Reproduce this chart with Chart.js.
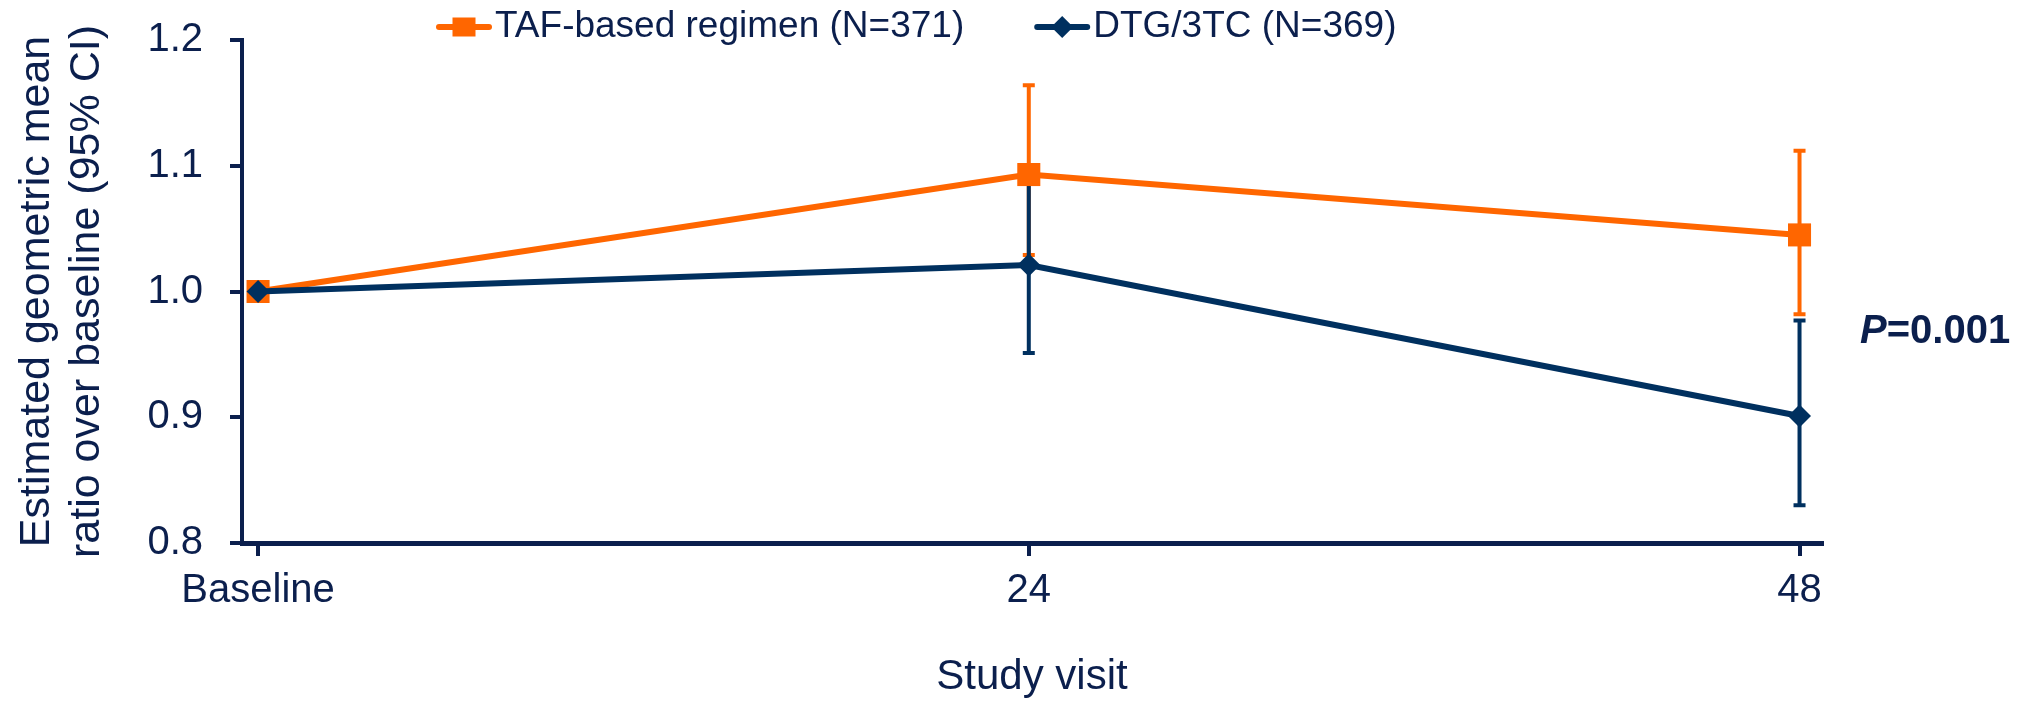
<!DOCTYPE html>
<html>
<head>
<meta charset="utf-8">
<title>Geometric mean ratio over baseline</title>
<script src="https://cdn.jsdelivr.net/npm/chart.js@4/dist/chart.umd.min.js"></script>
<style>
  html, body { margin: 0; padding: 0; background: #fff; }
  #wrap { width: 2034px; height: 704px; }
</style>
</head>
<body>
<div id="wrap"><canvas id="ratioChart"></canvas></div>
<script>
// data
const weeks = [0, 24, 48];
const xTickLabels = ['Baseline', '24', '48'];
const yTicks = [0.8, 0.9, 1.0, 1.1, 1.2];

const seriesNames = ['TAF-based regimen (N=371)', 'DTG/3TC (N=369)'];
const tafMean  = [1.000, 1.093, 1.045];
const tafLower = [null, 1.029, 0.982];
const tafUpper = [null, 1.164, 1.112];
const dtgMean  = [1.000, 1.021, 0.901];
const dtgLower = [null, 0.951, 0.830];
const dtgUpper = [null, 1.093, 0.977];
const pValue = '0.001';

const ORANGE = '#FF6600';
const NAVY = '#00305F';
const INK = '#0B1F4D';
const FONT = 'Arial, "Liberation Sans", sans-serif';

function points(means){
  return weeks.map((w, i) => ({ x: w, y: means[i] }));
}

// 95% CI whiskers, drawn under the lines and markers
const errorBars = {
  id: 'errorBars',
  beforeDatasetsDraw(chart){
    const { ctx, scales: { x, y } } = chart;
    chart.data.datasets.forEach(ds => {
      ctx.save();
      ctx.strokeStyle = ds.borderColor;
      ctx.lineWidth = 4;
      ds.data.forEach((pt, i) => {
        const lo = ds.lower[i], hi = ds.upper[i];
        if (lo == null || hi == null) return;
        const px = x.getPixelForValue(pt.x);
        const yLo = y.getPixelForValue(lo);
        const yHi = y.getPixelForValue(hi);
        ctx.beginPath();
        ctx.moveTo(px, yHi); ctx.lineTo(px, yLo);
        ctx.moveTo(px - 6, yHi); ctx.lineTo(px + 6, yHi);
        ctx.moveTo(px - 6, yLo); ctx.lineTo(px + 6, yLo);
        ctx.stroke();
      });
      ctx.restore();
    });
  }
};

// legend with a line + marker sample, like the original slide
const lineLegend = {
  id: 'lineLegend',
  afterDraw(chart){
    const ctx = chart.ctx;
    let x = 436;
    const y = 27;
    ctx.save();
    ctx.font = '37px ' + FONT;
    ctx.textBaseline = 'middle';
    chart.data.datasets.forEach(ds => {
      ctx.strokeStyle = ds.borderColor;
      ctx.lineWidth = 6;
      ctx.lineCap = 'round';
      ctx.beginPath();
      ctx.moveTo(x + 3, y);
      ctx.lineTo(x + 53, y);
      ctx.stroke();

      ctx.fillStyle = ds.borderColor;
      const cx = x + 28;
      if (ds.pointStyle === 'rect') {
        ctx.fillRect(cx - 11.5, y - 9.5, 23, 19);
      } else {
        ctx.beginPath();
        ctx.moveTo(cx, y - 11);
        ctx.lineTo(cx + 11, y);
        ctx.lineTo(cx, y + 11);
        ctx.lineTo(cx - 11, y);
        ctx.closePath();
        ctx.fill();
      }

      ctx.fillStyle = INK;
      ctx.fillText(ds.label, x + 59, y);
      x += 59 + ctx.measureText(ds.label).width + 70;
    });
    ctx.restore();
  }
};

const pLabel = {
  id: 'pLabel',
  afterDraw(chart){
    const ctx = chart.ctx;
    const x = chart.chartArea.right + 38;
    const y = 343;
    ctx.save();
    ctx.fillStyle = INK;
    ctx.textBaseline = 'alphabetic';
    ctx.font = 'italic bold 40px ' + FONT;
    ctx.fillText('P', x, y);
    const w = ctx.measureText('P').width;
    ctx.font = 'bold 40px ' + FONT;
    ctx.fillText('=' + pValue, x + w, y);
    ctx.restore();
  }
};

new Chart(document.getElementById('ratioChart'), {
  type: 'line',
  data: {
    datasets: [
      {
        label: seriesNames[0],
        data: points(tafMean),
        lower: tafLower,
        upper: tafUpper,
        borderColor: ORANGE,
        backgroundColor: ORANGE,
        borderWidth: 6,
        pointStyle: 'rect',
        pointRadius: 16.3,
        pointBorderWidth: 0,
        order: 1
      },
      {
        label: seriesNames[1],
        data: points(dtgMean),
        lower: dtgLower,
        upper: dtgUpper,
        borderColor: NAVY,
        backgroundColor: NAVY,
        borderWidth: 6,
        pointStyle: 'rectRot',
        pointRadius: 11.5,
        pointBorderWidth: 0,
        order: 0
      }
    ]
  },
  options: {
    responsive: true,
    maintainAspectRatio: false,
    animation: false,
    layout: { padding: { top: 40, right: 212, bottom: 0, left: 0 } },
    plugins: {
      legend: { display: false },
      tooltip: { enabled: false }
    },
    scales: {
      x: {
        type: 'linear',
        min: -0.5,
        max: 48.7,
        afterBuildTicks: s => { s.ticks = weeks.map(v => ({ value: v })); },
        afterFit: s => { s.height = 161; },
        ticks: {
          callback: v => xTickLabels[weeks.indexOf(v)],
          color: INK,
          font: { family: FONT, size: 40 },
          padding: 11,
          maxRotation: 0,
          autoSkip: false
        },
        grid: { drawOnChartArea: false, tickLength: 13, lineWidth: 4, color: INK },
        border: { color: INK, width: 5 },
        title: {
          display: true,
          text: 'Study visit',
          color: INK,
          font: { family: FONT, size: 42, lineHeight: 1.15 },
          padding: { top: 0, bottom: 2 }
        }
      },
      y: {
        min: 0.8,
        max: 1.2,
        afterBuildTicks: s => { s.ticks = yTicks.map(v => ({ value: v })); },
        afterFit: s => {
          s.width = 242;
          // the top label fits inside the layout padding, don't push the plot down
          s.paddingTop = 0;
          s.paddingBottom = 0;
        },
        ticks: {
          callback: v => v.toFixed(1),
          color: INK,
          font: { family: FONT, size: 40 },
          padding: 27
        },
        grid: { drawOnChartArea: false, tickLength: 12, lineWidth: 4, color: INK },
        border: { color: INK, width: 4 },
        title: {
          display: true,
          text: ['Estimated geometric mean', 'ratio over baseline (95% CI)'],
          color: INK,
          font: { family: FONT, size: 43, lineHeight: 50 / 43 },
          padding: { top: 12, bottom: 0 }
        }
      }
    }
  },
  plugins: [errorBars, lineLegend, pLabel]
});
</script>
</body>
</html>
